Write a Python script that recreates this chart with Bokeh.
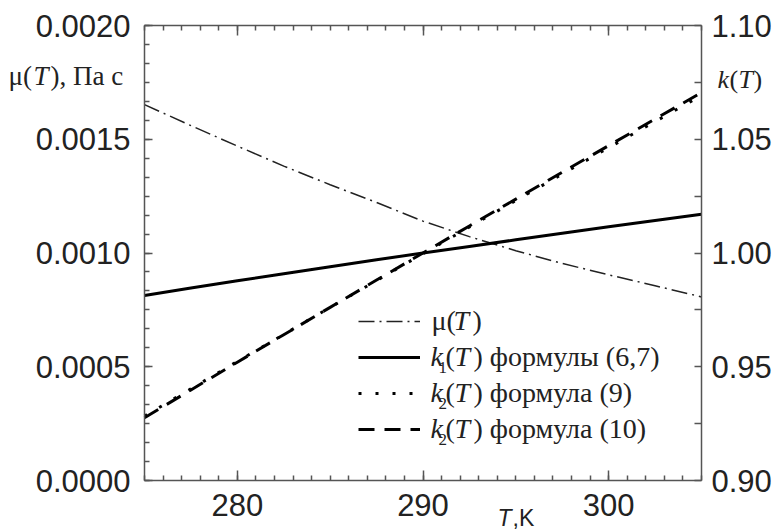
import numpy as np
from bokeh.plotting import figure
from bokeh.models import (Range1d, LinearAxis, FixedTicker, PrintfTickFormatter,
                          CustomJSTickFormatter, Legend, LegendItem, LabelSet,
                          ColumnDataSource)
from bokeh.embed import file_html
from bokeh.resources import INLINE

# ---------------- data ----------------
T_K = [275, 277.5, 280, 282.5, 285, 287.5, 290, 292.5, 295, 297.5, 300, 302.5, 305]
mu_Pa_s = [0.001652, 0.001560, 0.001470, 0.001382, 0.001300, 0.001222, 0.001140,
           0.001072, 0.001010, 0.000954, 0.000904, 0.000856, 0.000807]
k1_f67 = [0.9813, 0.9846, 0.9878, 0.9909, 0.9940, 0.9970, 1.0000,
          1.0029, 1.0058, 1.0087, 1.0115, 1.0143, 1.0170]
k2_f9 = [0.9283, 0.9403, 0.9523, 0.9642, 0.9761, 0.9879, 0.9997,
         1.0114, 1.0231, 1.0347, 1.0463, 1.0578, 1.0692]
k2_f10 = [0.9276, 0.9398, 0.9520, 0.9641, 0.9761, 0.9881, 1.0000,
          1.0119, 1.0237, 1.0355, 1.0472, 1.0589, 1.0705]

x_major = [280, 290, 300]
y_left_major = [0.0, 0.0005, 0.0010, 0.0015, 0.0020]
y_right_major = [0.90, 0.95, 1.00, 1.05, 1.10]

# ---------------- layout constants ----------------
X0, X1 = 275, 305
YL0, YL1 = 0.0, 0.0020
YR0, YR1 = 0.90, 1.10
W, H = 777, 529
BOX_L, BOX_R, BOX_T, BOX_B = 144, 701, 25, 480   # canvas pixels of the axes box
AX = "#555555"
TXT = "#222222"
SANS = "Liberation Sans"
SERIF = "Liberation Serif"

# the plot frame fills the whole canvas; the ranges are widened so that the
# axes box lands where the reference has it
sx_ = (X1 - X0) / (BOX_R - BOX_L)
syl = (YL1 - YL0) / (BOX_B - BOX_T)
syr = (YR1 - YR0) / (BOX_B - BOX_T)
x_range = Range1d(X0 - BOX_L * sx_, X1 + (W - BOX_R) * sx_)
yl_range = Range1d(YL0 - (H - BOX_B) * syl, YL1 + BOX_T * syl)
yr_range = Range1d(YR0 - (H - BOX_B) * syr, YR1 + BOX_T * syr)


def dx(px):
    return X0 + (px - BOX_L) * sx_


def dy(py):
    return YL0 + (BOX_B - py) * syl


p = figure(width=W, height=H, output_backend="svg", toolbar_location=None,
           x_range=x_range, y_range=yl_range,
           min_border_left=0, min_border_right=0, min_border_top=0, min_border_bottom=0)
p.extra_y_ranges = {"k": yr_range}
p.xgrid.grid_line_color = None
p.ygrid.grid_line_color = None
p.outline_line_color = None
p.background_fill_color = "white"
p.border_fill_color = "white"


def style(ax, mj, mn, size="31px", standoff=8):
    ax.axis_line_color = AX
    ax.axis_line_width = 1.5
    ax.major_tick_line_color = AX
    ax.minor_tick_line_color = AX
    ax.major_tick_line_width = 1.5
    ax.minor_tick_line_width = 1.5
    ax.major_tick_in = mj
    ax.major_tick_out = 0
    ax.minor_tick_in = mn
    ax.minor_tick_out = 0
    ax.major_label_text_font = SANS
    ax.major_label_text_font_size = size
    ax.major_label_text_color = TXT
    ax.major_label_standoff = standoff


x_minor = list(np.arange(X0, X1 + 0.5, 1.0))
xa = p.xaxis[0]
xa.ticker = FixedTicker(ticks=x_major, minor_ticks=x_minor)
xa.formatter = PrintfTickFormatter(format="%d")
xa.fixed_location = YL0
xa.bounds = (X0, X1)
style(xa, 10, 5, standoff=13)

yl_minor = list(np.linspace(YL0, YL1, 25))
ya = p.yaxis[0]
ya.ticker = FixedTicker(ticks=y_left_major, minor_ticks=yl_minor)
ya.formatter = PrintfTickFormatter(format="%.4f")
ya.fixed_location = X0
ya.bounds = (YL0, YL1)
style(ya, 8, 5, standoff=14)

top = LinearAxis(ticker=FixedTicker(ticks=x_major, minor_ticks=x_minor),
                 formatter=CustomJSTickFormatter(code="return ''"),
                 fixed_location=YL1, bounds=(X0, X1))
style(top, 10, 5, size="1px", standoff=0)
p.add_layout(top, "above")

yr_minor = [0.925, 0.975, 1.025, 1.075]
right = LinearAxis(y_range_name="k",
                   ticker=FixedTicker(ticks=y_right_major, minor_ticks=yr_minor),
                   formatter=PrintfTickFormatter(format="%.2f"),
                   fixed_location=X1, bounds=(YR0, YR1))
style(right, 7, 7, standoff=10)
p.add_layout(right, "right")

# ---------------- series ----------------
r_mu = p.line(T_K, mu_Pa_s, line_color="#222222", line_width=1.5, line_dash="16 5 2 5")
r_k1 = p.line(T_K, k1_f67, y_range_name="k", line_color="black", line_width=3)
r_k9 = p.line(T_K, k2_f9, y_range_name="k", line_color="black", line_width=3,
              line_dash="3 14")
r_k10 = p.line(T_K, k2_f10, y_range_name="k", line_color="black", line_width=3,
               line_dash="16 10")

legend = Legend(items=[LegendItem(label=" ", renderers=[r]) for r in (r_mu, r_k1, r_k9, r_k10)],
                glyph_width=62, glyph_height=36, label_height=36, label_standoff=2,
                spacing=0, padding=0, margin=0, border_line_color=None,
                background_fill_alpha=0, label_text_font_size="10px")
legend.location = (358, H - 447)
p.add_layout(legend)

# ---------------- texts (mixed upright / italic pieces) ----------------
pieces = {"x": [], "y": [], "text": [], "font": [], "size": [], "style": []}


def put(text, px, py, font=SERIF, size=28, style="normal"):
    pieces["x"].append(dx(px))
    pieces["y"].append(dy(py))
    pieces["text"].append(text)
    pieces["font"].append(font)
    pieces["size"].append(f"{size}px")
    pieces["style"].append(style)


# left axis title
put("μ(", 8, 84, size=27)
put("T", 33, 84, size=27, style="italic")
put("), Па с", 50, 84, size=27)
# right axis title
put("k", 717, 87, size=26, style="italic")
put("(", 729, 87, size=26)
put("T", 738, 87, size=26, style="italic")
put(")", 753, 87, size=26)
# x axis title
put("T", 497, 525, font=SANS, size=23, style="italic")
put(",K", 512, 525, font=SANS, size=23)

# legend texts
rows = [(329, None, ""), (365, "1", " формулы (6,7)"),
        (401, "2", " формула (9)"), (437, "2", " формула (10)")]
for base, sub, tail in rows:
    if sub is None:
        put("μ(", 431, base)
        put("T", 453, base, style="italic")
        put(")", 472, base)
    else:
        put("k", 430, base, style="italic")
        put(sub, 438, base + 7, size=17)
        put("(", 445, base)
        put("T", 454, base, style="italic")
        put(")" + tail, 473, base)

p.add_layout(LabelSet(source=ColumnDataSource(pieces), x="x", y="y", text="text",
                      text_font={"field": "font"}, text_font_size={"field": "size"},
                      text_font_style={"field": "style"}, text_color=TXT,
                      text_align="left", text_baseline="alphabetic"))

open("out.html", "w").write(file_html(p, INLINE))
